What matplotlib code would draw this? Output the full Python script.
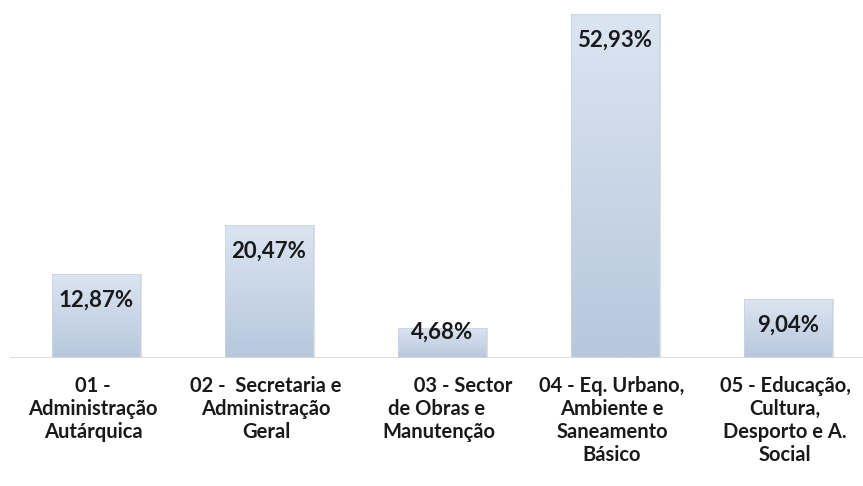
import numpy as np
import matplotlib.pyplot as plt
from matplotlib.colors import LinearSegmentedColormap

categories = ['01 -\nAdministração\nAutárquica',
              '02 -  Secretaria e\nAdministração\nGeral',
              '          03 - Sector\nde Obras e \nManutenção',
              '04 - Eq. Urbano,\nAmbiente e\nSaneamento\nBásico',
              '05 - Educação,\nCultura,\nDesporto e A.\nSocial']
values = [12.87, 20.47, 4.68, 52.93, 9.04]
value_labels = ['12,87%', '20,47%', '4,68%', '52,93%', '9,04%']

plt.rcParams['font.family'] = ['Lato', 'DejaVu Sans']

fig = plt.figure(figsize=(8.63, 4.86), dpi=100)
ax = fig.add_axes([10 / 863, 128 / 486, 853 / 863, 358 / 486])

x = np.arange(len(values))
width = 0.51
cmap = LinearSegmentedColormap.from_list('barfade', ['#b7c7dc', '#dbe5f2'])
grad = np.linspace(0, 1, 256).reshape(-1, 1)

# soft shadow then gradient fill clipped to each bar
for xi, v in zip(x, values):
    ax.bar(xi + 0.012, v, width, bottom=0, color='#c8c8c8', alpha=0.6, zorder=1)
bars = ax.bar(x, values, width, color='none', edgecolor='#c9d4e3', linewidth=0.6, zorder=3)
for b in bars:
    x0, y0 = b.get_x(), b.get_y()
    im = ax.imshow(grad, cmap=cmap, aspect='auto', origin='lower',
                   extent=[x0, x0 + b.get_width(), y0, y0 + b.get_height()], zorder=2)
    im.set_clip_path(b)

for xi, v, lab in zip(x, values, value_labels):
    ax.text(xi, max(v - 4.0, 4.0), lab, ha='center', va='center', fontsize=16,
            fontweight='bold', color='#1a1a1a', zorder=4)

ax.set_xlim(-0.495, 4.435)
ax.set_ylim(0, 358 / 6.5)
ax.axhline(0, color='#d9d9d9', linewidth=2, zorder=5)
for s in ax.spines.values():
    s.set_visible(False)
ax.set_xticks([])
ax.set_yticks([])

for xi, cat in zip(x, categories):
    ax.text(xi - 0.015, -2.7, cat, ha='center', va='top', fontsize=14.5,
            fontweight='bold', color='#1a1a1a', linespacing=1.2)

fig.savefig('out.png', dpi=100)
